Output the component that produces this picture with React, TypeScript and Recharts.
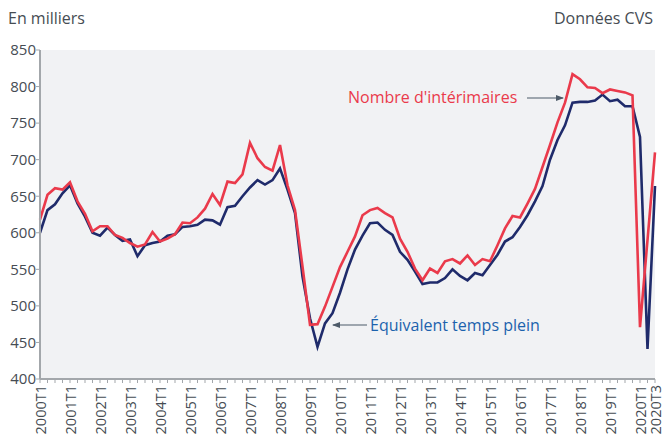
import React from 'react';
import { LineChart, Line, XAxis, YAxis, CartesianGrid } from 'recharts';

const years = Array.from({ length: 21 }, (_, k) => 2000 + k);
const quarters: string[] = [];
years.forEach((y) => {
  [1, 2, 3, 4].forEach((q) => {
    if (y === 2020 && q === 4) return;
    quarters.push(`${y}T${q}`);
  });
});

const interimaires = [
  618, 652, 661, 659, 669, 643, 626, 602, 609, 609, 597, 593, 586, 581, 584, 601,
  588, 592, 598, 614, 613, 621, 633, 653, 638, 670, 668, 680, 723, 702, 690, 685,
  720, 665, 631, 554, 474, 475, 499, 526, 553, 574, 595, 624, 631, 634, 627, 621,
  592, 574, 551, 535, 551, 545, 561, 564, 558, 569, 556, 564, 561, 583, 606, 623,
  621, 640, 660, 690, 720, 751, 778, 817, 810, 799, 798, 791, 796, 794, 792, 788,
  471, 590, 710,
];

const etp = [
  600, 631, 639, 654, 665, 640, 622, 600, 596, 607, 597, 589, 591, 568, 583, 586,
  588, 596, 598, 608, 609, 611, 618, 617, 611, 635, 637, 650, 662, 672, 666, 672,
  688, 659, 627, 540, 483, 444, 476, 490, 518, 550, 577, 596, 613, 614, 604, 597,
  574, 563, 547, 530, 532, 532, 538, 550, 541, 535, 545, 542, 556, 570, 588, 594,
  608, 624, 643, 664, 700, 727, 747, 778, 779, 779, 781, 789, 780, 782, 773, 773,
  731, 441, 664,
];

const yTicks = [400, 450, 500, 550, 600, 650, 700, 750, 800, 850];

const data = quarters.map((q, i) => ({ q, interim: interimaires[i], etp: etp[i] }));

const FONT = '"Open Sans", "Noto Sans", sans-serif';
const TEXT = '#464c53';
const AXIS = '#a3a7ab';

const XTick = (props: any) => {
  const { x, y, payload, index } = props;
  const label: string = payload.value;
  const show = label.endsWith('T1') || index === quarters.length - 1;
  if (!show) return <g />;
  return (
    <g transform={`translate(${x},${y}) rotate(-90)`}>
      <text
        x={0}
        y={0}
        textAnchor="end"
        dominantBaseline="central"
        fontFamily={FONT}
        fontSize={14.5}
        fill={TEXT}
      >
        {label}
      </text>
    </g>
  );
};

export default function App() {
  return (
    <div style={{ position: 'absolute', left: 0, top: 0, width: 665, height: 438, background: '#fff' }}>
      <LineChart
        width={665}
        height={438}
        data={data}
        margin={{ top: 50, right: 10, bottom: 0, left: 0 }}
      >
        <CartesianGrid fill="#f1f2f4" horizontal={false} vertical={false} stroke="none" />
        <XAxis
          dataKey="q"
          interval={0}
          height={59}
          tickSize={4}
          tickMargin={2}
          tick={<XTick />}
          tickLine={{ stroke: AXIS, strokeWidth: 1 }}
          axisLine={{ stroke: AXIS, strokeWidth: 2 }}
        />
        <YAxis
          width={40}
          domain={[400, 850]}
          ticks={yTicks}
          interval={0}
          tickSize={4}
          tickMargin={0}
          tick={{ fontFamily: FONT, fontSize: 15, fill: TEXT }}
          tickLine={{ stroke: AXIS, strokeWidth: 1 }}
          axisLine={{ stroke: AXIS, strokeWidth: 2 }}
        />
        <Line
          type="linear"
          dataKey="etp"
          stroke="#1f2b6b"
          strokeWidth={2.6}
          dot={false}
          isAnimationActive={false}
        />
        <Line
          type="linear"
          dataKey="interim"
          stroke="#ea3a4b"
          strokeWidth={2.6}
          dot={false}
          isAnimationActive={false}
        />
      </LineChart>
      <svg
        width={665}
        height={438}
        style={{ position: 'absolute', left: 0, top: 0, pointerEvents: 'none' }}
      >
        <defs>
          <marker id="arr" markerWidth="8" markerHeight="6" refX="7" refY="3" orient="auto" markerUnits="userSpaceOnUse">
            <path d="M0,0 L8,3 L0,6 Z" fill="#4d5a68" />
          </marker>
        </defs>
        <text x={8} y={24} fontFamily={FONT} fontSize={16} fill={TEXT}>En milliers</text>
        <text x={653} y={24} textAnchor="end" fontFamily={FONT} fontSize={16} fill={TEXT}>Données CVS</text>
        <text x={348} y={103} fontFamily={FONT} fontSize={16} fill="#ea3a4b">Nombre d'intérimaires</text>
        <line x1={527} y1={98} x2={563} y2={98} stroke="#4d5a68" strokeWidth={1.2} markerEnd="url(#arr)" />
        <text x={370} y={331} fontFamily={FONT} fontSize={16} fill="#1c62ad">Équivalent temps plein</text>
        <line x1={367} y1={325} x2={333} y2={325} stroke="#4d5a68" strokeWidth={1.2} markerEnd="url(#arr)" />
      </svg>
    </div>
  );
}
